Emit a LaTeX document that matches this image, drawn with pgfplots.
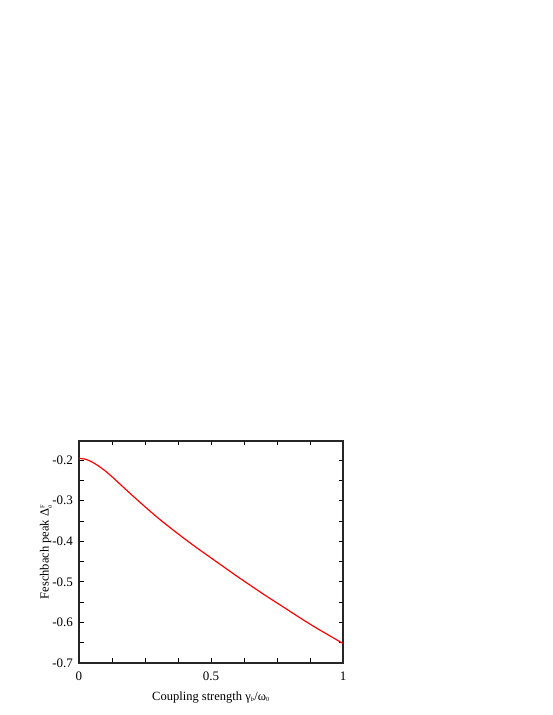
\documentclass[border=0pt]{standalone}
\usepackage{pgfplots}
\pgfplotsset{compat=1.18}
\usepackage{amsmath}
\usepackage{fontspec}
\setmainfont{Liberation Serif}

\begin{document}
\begin{tikzpicture}[x=1pt,y=1pt]
\useasboundingbox (0,0) rectangle (553,715);
\begin{axis}[
    at={(79pt,52pt)},
    anchor=south west,
    scale only axis,
    width=264pt,
    height=222pt,
    xmin=0, xmax=1,
    ymin=-0.7, ymax=-0.153,
    xtick={0,0.125,...,1.01},
    xticklabels={0,,,,0.5,,,,1},
    ytick={-0.7,-0.65,...,-0.19},
    yticklabels={-0.7,,-0.6,,-0.5,,-0.4,,-0.3,,-0.2},
    tick align=inside,
    major tick length=4.5pt,
    tick style={line width=0.8pt, black},
    axis line style={line width=1.1pt, black!85},
    xtick pos=both, ytick pos=both,
    ticklabel style={font=\fontsize{13}{15}\selectfont},
    label style={font=\fontsize{12.5}{14}\selectfont},
    xlabel={Coupling strength γ$_{\scriptscriptstyle\text{\itshape b}}$/ω$_{\scriptscriptstyle\text{0}}$},
    ylabel={Feschbach peak Δ$_{\scriptscriptstyle\text{\itshape a}}^{\scriptscriptstyle\text{F}}$},
    xlabel style={at={(axis description cs:0.5,-0.167)}, anchor=base},
    ylabel style={at={(axis description cs:-0.115,0.5)}, anchor=base},
    xticklabel style={yshift=-5pt},
    yticklabel style={xshift=-2.5pt},
]
\addplot[red, line width=1.2pt, smooth] coordinates {
    (0,-0.196) (0.025,-0.198) (0.05,-0.205) (0.075,-0.215) (0.1,-0.227)
    (0.125,-0.241) (0.15,-0.256) (0.175,-0.271) (0.2,-0.286) (0.25,-0.315)
    (0.3,-0.343) (0.35,-0.369) (0.4,-0.394) (0.45,-0.418) (0.5,-0.441)
    (0.55,-0.464) (0.6,-0.487) (0.65,-0.509) (0.7,-0.531) (0.75,-0.552)
    (0.8,-0.573) (0.85,-0.594) (0.9,-0.614) (0.95,-0.633) (1.0,-0.652)
};
\end{axis}
\end{tikzpicture}
\end{document}
